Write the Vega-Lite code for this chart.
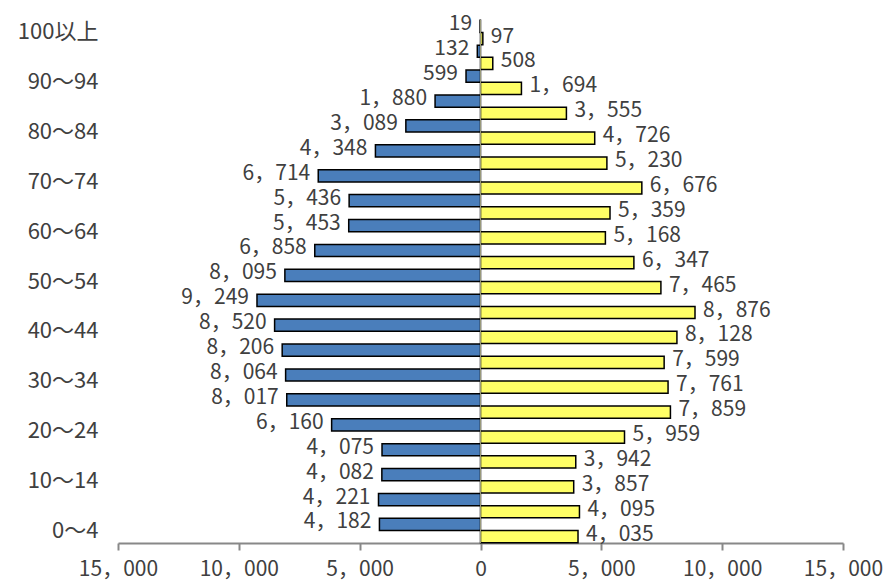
{
  "$schema": "https://vega.github.io/schema/vega-lite/v6.json",
  "width": 725,
  "height": 523,
  "autosize": "none",
  "padding": {"left": 118, "top": 20, "right": 40, "bottom": 40},
  "background": "white",
  "config": {"view": {"stroke": null}, "font": "Noto Sans CJK JP"},
  "data": {"values": [
    {"age": "0～4", "sex": "男", "pop": 4182}, {"age": "0～4", "sex": "女", "pop": 4035},
    {"age": "5～9", "sex": "男", "pop": 4221}, {"age": "5～9", "sex": "女", "pop": 4095},
    {"age": "10～14", "sex": "男", "pop": 4082}, {"age": "10～14", "sex": "女", "pop": 3857},
    {"age": "15～19", "sex": "男", "pop": 4075}, {"age": "15～19", "sex": "女", "pop": 3942},
    {"age": "20～24", "sex": "男", "pop": 6160}, {"age": "20～24", "sex": "女", "pop": 5959},
    {"age": "25～29", "sex": "男", "pop": 8017}, {"age": "25～29", "sex": "女", "pop": 7859},
    {"age": "30～34", "sex": "男", "pop": 8064}, {"age": "30～34", "sex": "女", "pop": 7761},
    {"age": "35～39", "sex": "男", "pop": 8206}, {"age": "35～39", "sex": "女", "pop": 7599},
    {"age": "40～44", "sex": "男", "pop": 8520}, {"age": "40～44", "sex": "女", "pop": 8128},
    {"age": "45～49", "sex": "男", "pop": 9249}, {"age": "45～49", "sex": "女", "pop": 8876},
    {"age": "50～54", "sex": "男", "pop": 8095}, {"age": "50～54", "sex": "女", "pop": 7465},
    {"age": "55～59", "sex": "男", "pop": 6858}, {"age": "55～59", "sex": "女", "pop": 6347},
    {"age": "60～64", "sex": "男", "pop": 5453}, {"age": "60～64", "sex": "女", "pop": 5168},
    {"age": "65～69", "sex": "男", "pop": 5436}, {"age": "65～69", "sex": "女", "pop": 5359},
    {"age": "70～74", "sex": "男", "pop": 6714}, {"age": "70～74", "sex": "女", "pop": 6676},
    {"age": "75～79", "sex": "男", "pop": 4348}, {"age": "75～79", "sex": "女", "pop": 5230},
    {"age": "80～84", "sex": "男", "pop": 3089}, {"age": "80～84", "sex": "女", "pop": 4726},
    {"age": "85～89", "sex": "男", "pop": 1880}, {"age": "85～89", "sex": "女", "pop": 3555},
    {"age": "90～94", "sex": "男", "pop": 599}, {"age": "90～94", "sex": "女", "pop": 1694},
    {"age": "95～99", "sex": "男", "pop": 132}, {"age": "95～99", "sex": "女", "pop": 508},
    {"age": "100以上", "sex": "男", "pop": 19}, {"age": "100以上", "sex": "女", "pop": 97}
  ]},
  "transform": [
    {"calculate": "datum.sex == '男' ? -datum.pop : datum.pop", "as": "xv"},
    {"calculate": "replace(format(datum.pop, ','), ',', '，')", "as": "label"}
  ],
  "layer": [
    {
      "mark": {"type": "bar", "stroke": "black", "strokeWidth": 1.5},
      "encoding": {
        "y": {"field": "age", "type": "nominal",
              "sort": ["100以上","95～99","90～94","85～89","80～84","75～79","70～74","65～69","60～64","55～59","50～54","45～49","40～44","35～39","30～34","25～29","20～24","15～19","10～14","5～9","0～4"],
              "scale": {"paddingInner": 0, "paddingOuter": 0},
              "axis": {"title": null, "domain": false, "ticks": false, "labelPadding": 20, "labelFontSize": 22, "labelColor": "#404040",
                       "values": ["100以上","90～94","80～84","70～74","60～64","50～54","40～44","30～34","20～24","10～14","0～4"]}},
        "yOffset": {"field": "sex", "type": "nominal", "sort": ["男", "女"], "scale": {"paddingInner": 0, "paddingOuter": 0.02}},
        "x": {"field": "xv", "type": "quantitative",
              "scale": {"domain": [-15000, 15000], "nice": false},
              "axis": {"title": null, "values": [-15000, -10000, -5000, 0, 5000, 10000, 15000],
                       "labelExpr": "replace(format(abs(datum.value), ','), ',', '，')",
                       "labelFlush": false,
                       "grid": false, "domainColor": "#888888", "domainWidth": 2, "tickColor": "#888888", "tickWidth": 2, "tickSize": 7,
                       "labelFontSize": 21, "labelColor": "#404040", "labelPadding": 8}},
        "color": {"field": "sex", "type": "nominal", "scale": {"domain": ["男", "女"], "range": ["#4A7EBB", "#FFFF66"]}, "legend": null}
      }
    },
    {
      "transform": [{"filter": "datum.sex == '男'"}],
      "mark": {"type": "text", "align": "right", "baseline": "middle", "dx": -8, "dy": -2, "fontSize": 21, "color": "#404040"},
      "encoding": {
        "y": {"field": "age", "type": "nominal", "sort": ["100以上","95～99","90～94","85～89","80～84","75～79","70～74","65～69","60～64","55～59","50～54","45～49","40～44","35～39","30～34","25～29","20～24","15～19","10～14","5～9","0～4"]},
        "yOffset": {"field": "sex", "type": "nominal", "sort": ["男", "女"]},
        "x": {"field": "xv", "type": "quantitative"},
        "text": {"field": "label"}
      }
    },
    {
      "transform": [{"filter": "datum.sex == '女'"}],
      "mark": {"type": "text", "align": "left", "baseline": "middle", "dx": 8, "dy": -2, "fontSize": 21, "color": "#404040"},
      "encoding": {
        "y": {"field": "age", "type": "nominal", "sort": ["100以上","95～99","90～94","85～89","80～84","75～79","70～74","65～69","60～64","55～59","50～54","45～49","40～44","35～39","30～34","25～29","20～24","15～19","10～14","5～9","0～4"]},
        "yOffset": {"field": "sex", "type": "nominal", "sort": ["男", "女"]},
        "x": {"field": "xv", "type": "quantitative"},
        "text": {"field": "label"}
      }
    },
    {
      "data": {"values": [{"z": 0}]},
      "transform": [],
      "mark": {"type": "rule", "color": "#9A9A7A", "strokeWidth": 1},
      "encoding": {"x": {"field": "z", "type": "quantitative"}}
    }
  ]
}
